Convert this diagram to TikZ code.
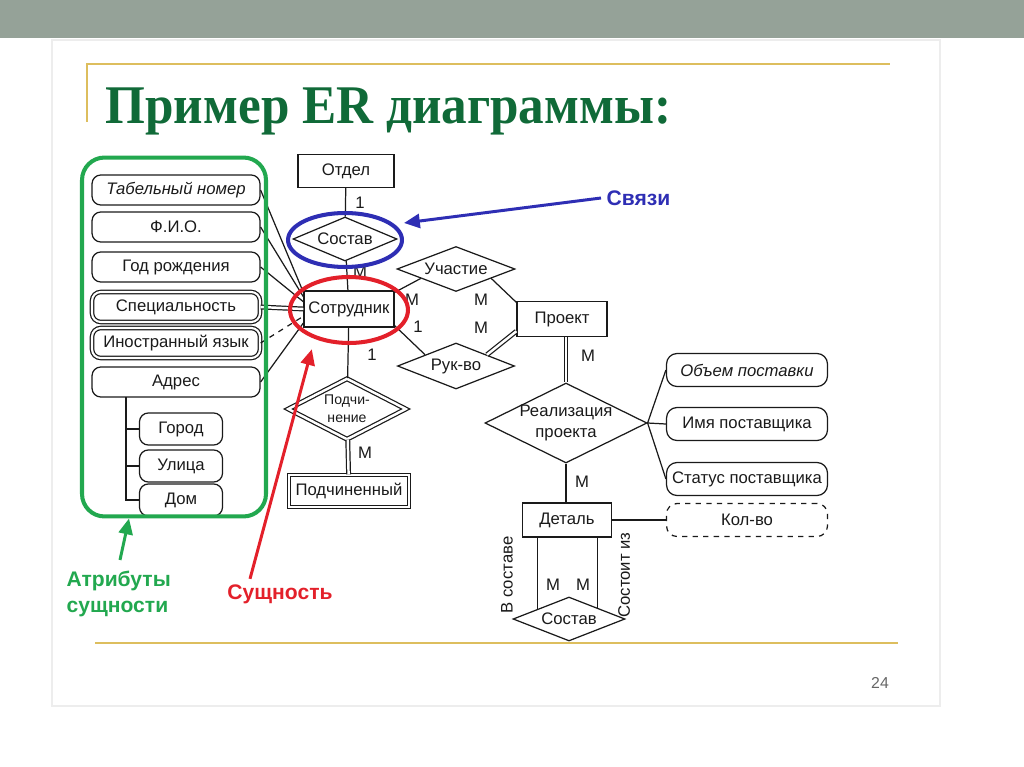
\documentclass[tikz,border=0pt]{standalone}
\usepackage{fontspec}
\setmainfont{Liberation Serif}
\setsansfont{Liberation Sans}
\usetikzlibrary{arrows.meta, shapes.geometric}
\definecolor{band}    {HTML}{95A298}
\definecolor{gold}    {HTML}{DDBE5E}
\definecolor{heading} {HTML}{106A38}
\definecolor{attrgrn} {HTML}{22A84F}
\definecolor{linkblue}{HTML}{2E2EB4}
\definecolor{entred}  {HTML}{E3202A}
\definecolor{ink}     {HTML}{1A1A1A}
\definecolor{frame}   {HTML}{EDEDED}

\begin{document}
\begin{tikzpicture}[x=0.02cm, y=-0.02cm, color=ink, line width=0.7pt,
    font=\sffamily\fontsize{9.5}{12.5}\selectfont,
    entity/.style={draw=ink, rectangle, inner sep=0pt},
    attr/.style={draw=ink, rounded corners=5pt, inner sep=0pt, minimum width=3.36cm, minimum height=0.6cm},
    attrdbl/.style={attr, double, double distance=1.2pt},
    supp/.style={draw=ink, rounded corners=6pt, inner sep=0pt, minimum width=3.22cm, minimum height=0.66cm},
    rel/.style={draw=ink, diamond, aspect=2, inner sep=-4pt, align=center},
    dbl/.style={double, double distance=1.4pt},
    card/.style={inner sep=1pt},
    ring/.style={ellipse, line width=2.3pt, inner sep=0pt},
    note/.style={font=\sffamily\bfseries\fontsize{12}{15}\selectfont, align=left, inner sep=0pt}]
    \useasboundingbox (0,0) rectangle (1024,767);
    \fill[band] (0,0) rectangle (1024,38);
    \draw[frame, line width=1pt] (52,40) rectangle (940,706);
    \draw[gold, line width=1.3pt] (87,122) -- (87,64) -- (890,64);
    \draw[gold, line width=1.3pt] (95,643) -- (898,643);
    \node[anchor=base west, inner sep=0pt, text=heading,
          font=\rmfamily\bfseries\fontsize{31}{36}\selectfont] (title) at (105,124)
          {\scalebox{0.94}[1]{Пример ER диаграммы:}};
    \node[text=black!60, font=\sffamily\fontsize{9}{10}\selectfont] (pnum) at (880,683) {24};

    \foreach \s/\txt/\y [count=\i] in
      {attr/{\itshape Табельный номер}/190, attr/Ф.И.О./227, attr/Год рождения/267,
       attrdbl/Специальность/307, attrdbl/Иностранный язык/343, attr/Адрес/382}
      {\node[\s] (a\i) at (176,\y) {\txt};}
    \foreach \txt/\y [count=\i] in {Город/429, Улица/466, Дом/500}
      {\node[attr, minimum width=1.66cm, minimum height=0.64cm] (b\i) at (181,\y) {\txt};}
    \coordinate (stem) at (126,397);
    \draw (stem) |- (b3.west);
    \draw (b1.west) -- (b1.west -| stem);
    \draw (b2.west) -- (b2.west -| stem);

    \node[entity, minimum width=1.92cm, minimum height=0.66cm] (otdel) at (346,171) {Отдел};
    \node[rel, minimum width=2.08cm, minimum height=0.88cm] (sosta) at (345,239) {Состав};
    \node[entity, minimum width=1.8cm, minimum height=0.72cm] (sotr) at (349,309) {Сотрудник};
    \node[rel, dbl, minimum width=2.36cm, minimum height=1.22cm,
          font=\sffamily\fontsize{8}{10}\selectfont] (podch) at (347,409) {Подчи-\\нение};
    \node[entity, dbl, minimum width=2.4cm, minimum height=0.64cm] (podchin) at (349,491) {Подчиненный};
    \node[rel, minimum width=2.36cm, minimum height=0.9cm] (uchast) at (456,269) {Участие};
    \node[rel, minimum width=2.34cm, minimum height=0.92cm] (rukvo) at (456,366) {Рук-во};
    \node[entity, minimum width=1.8cm, minimum height=0.7cm] (proekt) at (562,319) {Проект};
    \node[rel, minimum width=3.24cm, minimum height=1.6cm] (real) at (566,423) {Реализация\\проекта};
    \node[entity, minimum width=1.78cm, minimum height=0.68cm] (detal) at (567,520) {Деталь};
    \node[rel, minimum width=2.24cm, minimum height=0.88cm] (sostb) at (569,619) {Состав};
    \node[supp] (s1) at (747,370) {\itshape Объем поставки};
    \node[supp] (s2) at (747,424) {Имя поставщика};
    \node[supp] (s3) at (747,479) {Статус поставщика};
    \node[supp, dashed] (s4) at (747,520) {Кол-во};

    \draw (a1.east) -- (sotr.160);
    \draw (a2.east) -- (sotr.165);
    \draw (a3.east) -- (sotr.171);
    \draw[dbl] (a4.east) -- (sotr.west);
    \draw[dashed] (a5.east) -- (sotr.189);
    \draw (a6.east) -- (sotr.197);
    \draw (otdel) -- (sosta);
    \draw (sosta) -- (sotr);
    \draw (sotr) -- (podch);
    \draw[dbl] (podch) -- (podchin);
    \draw (sotr.20) -- (uchast.195);
    \draw (uchast.-15) -- (proekt.160);
    \draw (sotr.-20) -- (rukvo.160);
    \draw[dbl] (rukvo.20) -- (proekt.195);
    \draw[dbl] (real.north |- proekt.south) -- (real.north);
    \draw (real.south) -- (real.south |- detal.north);
    \draw (real.east) -- (s1.west);
    \draw (real.east) -- (s2.west);
    \draw (real.east) -- (s3.west);
    \draw (detal.east) -- (s4.west);
    \draw (sostb.162 |- detal.south) -- (sostb.162);
    \draw (sostb.21 |- detal.south) -- (sostb.21);

    \foreach \txt/\x/\y [count=\i] in
      {1/360/203, М/360/272, 1/372/355, М/365/453, М/412/300, 1/418/327,
       М/481/300, М/481/328, М/588/356, М/582/482, М/553/585, М/583/585}
      {\node[card] (c\i) at (\x,\y) {\txt};}
    \node[rotate=90] (vsost) at (507,575) {В составе};
    \node[rotate=90] (sostiz) at (624,575) {Состоит из};

    \node[draw=attrgrn, line width=2.3pt, rounded corners=0.45cm, minimum width=3.68cm,
          minimum height=7.18cm] (grp) at (174,337) {};
    \node[ring, draw=linkblue, minimum width=2.28cm, minimum height=1.08cm] (ring1) at (345,240) {};
    \node[ring, draw=entred, minimum width=2.36cm, minimum height=1.32cm] (ring2) at (349,310) {};

    \node[note, text=linkblue, anchor=west] (svyazi) at (606,198) {Связи};
    \node[note, text=entred] (sush) at (280,594) {Сущность};
    \node[note, text=attrgrn, anchor=north west] (atrib) at (66,570) {Атрибуты\\сущности};
    \draw[linkblue, line width=1.7pt, -{Triangle[length=9pt, width=8pt]}]
      ([xshift=-0.1cm]svyazi.west) -- ([yshift=0.34cm]ring1.east);
    \draw[entred, line width=1.7pt, -{Triangle[length=9pt, width=8pt]}]
      ([xshift=-0.6cm, yshift=0.1cm]sush.north) -- ([xshift=-0.36cm, yshift=-0.12cm]ring2.240);
    \draw[attrgrn, line width=1.7pt, -{Triangle[length=9pt, width=8pt]}]
      ([xshift=1.08cm, yshift=0.2cm]atrib.north west) -- ([xshift=-0.9cm]grp.south);
\end{tikzpicture}
\end{document}
